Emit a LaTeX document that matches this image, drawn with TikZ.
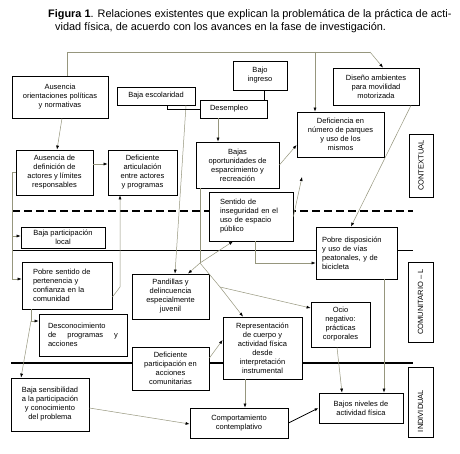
\documentclass[tikz,border=0pt]{standalone}
\usepackage{fontspec}
\setmainfont{Liberation Sans}
\usetikzlibrary{arrows.meta}
\definecolor{conncol}{RGB}{150,150,125}
\begin{document}
\begin{tikzpicture}[x=1pt,y=-1pt,
  every node/.style={font=\fontsize{7.5}{9}\selectfont},
  box/.style={draw=black, line width=0.8pt, fill=white, inner sep=0pt, align=center},
  conn/.style={draw=conncol, line width=0.5pt},
  arr/.style={-{Latex[length=4pt,width=3pt,color=black]}},
  solidln/.style={draw=black, line width=0.8pt},
  titlefont/.style={font=\fontsize{10.9}{13}\selectfont, inner sep=0pt, anchor=base west}]
\useasboundingbox[fill=white] (0,0) rectangle (460,454);
% title
\node[titlefont] (tt1) at (48,18) {\textbf{Figura 1}. Relaciones existentes que explican la problemática de la práctica de acti-};
\node[titlefont] (tt2) at (55,31) {vidad física, de acuerdo con los avances en la fase de investigación.};
% level separators
\draw[line width=2pt, dash pattern=on 8pt off 4pt] (12,211) -- (413,211);
\draw[line width=0.8pt] (12,250.5) -- (413,250.5);
\draw[line width=2.5pt] (11,363) -- (413,363);
% boxes
\node[box, minimum width=96pt, minimum height=42pt] (b1) at (60,97) {Ausencia\\orientaciones políticas\\y normativas};
\node[box, minimum width=78pt, minimum height=18pt] (esc) at (156,96) {Baja escolaridad};
\node[box, minimum width=54pt, minimum height=29pt] (ing) at (260,75.5) {Bajo\\ingreso};
\node[box, minimum width=67pt, minimum height=18pt, text width=47pt, align=left, inner xsep=10pt] (des) at (233.5,109) {Desempleo};
\node[box, minimum width=86pt, minimum height=37pt] (dis) at (376,86.5) {Diseño ambientes\\para movilidad\\motorizada};
\node[box, minimum width=87pt, minimum height=45pt] (par) at (340.5,134.5) {Deficiencia en\\número de parques\\y uso de los\\mismos};
\node[box, rotate=90, minimum width=63pt, minimum height=24pt] (ctx) at (421,165.5) {CONTEXTUAL};
\node[box, minimum width=77pt, minimum height=45pt] (def) at (54.5,172.5) {Ausencia de\\definición de\\actores y límites\\responsables};
\node[box, minimum width=69pt, minimum height=45pt] (art) at (142.5,172.5) {Deficiente\\articulación\\entre actores\\y programas};
\node[box, minimum width=83pt, minimum height=46pt] (opo) at (237.5,165) {Bajas\\oportunidades de\\esparcimiento y\\recreación};
\node[box, minimum width=84pt, minimum height=49pt, text width=62pt, align=left, inner xsep=11pt] (seg) at (251,216.5) {Sentido de\\inseguridad en el\\uso de espacio\\público};
\node[box, minimum width=84pt, minimum height=21pt] (loc) at (63,237.5) {Baja participación\\local};
\node[box, minimum width=81pt, minimum height=52pt, text width=69pt, align=left, inner xsep=6pt] (via) at (356.5,253) {Pobre disposición\\y uso de vías\\peatonales, y de\\bicicleta};
\node[box, rotate=90, minimum width=80pt, minimum height=25pt] (com) at (420.5,302) {COMUNITARIO – L};
\node[box, rotate=90, minimum width=70pt, minimum height=25pt, text width=60pt, align=left, inner xsep=5pt] (ind) at (420.5,402) {INDIVIDUAL};
\node[box, minimum width=90pt, minimum height=47pt, text width=68pt, align=left, inner xsep=11pt] (per) at (67,285.5) {Pobre sentido de\\pertenencia y\\confianza en la\\comunidad};
\node[box, minimum width=88pt, minimum height=42pt, text width=70pt, align=left, inner xsep=9pt] (dsc) at (83,335) {Desconocimiento\\de\hfill programas\hfill y\\acciones};
\node[box, minimum width=77pt, minimum height=45pt] (pan) at (170.5,296.5) {Pandillas y\\delincuencia\\especialmente\\juvenil};
\node[box, minimum width=59pt, minimum height=45pt] (oci) at (340.5,324.5) {Ocio\\negativo:\\prácticas\\corporales};
\node[box, minimum width=79pt, minimum height=62pt] (rep) at (262.5,348) {Representación\\de cuerpo y\\actividad física\\desde\\interpretación\\instrumental};
\node[box, minimum width=77pt, minimum height=43pt] (dpa) at (170.5,368.5) {Deficiente\\participación en\\acciones\\comunitarias};
\node[box, minimum width=78pt, minimum height=53pt] (sen) at (50,404.5) {Baja sensibilidad\\a la participación\\y conocimiento\\del problema};
\node[box, minimum width=98pt, minimum height=30pt] (cmp) at (239,423) {Comportamiento\\contemplativo};
\node[box, minimum width=84pt, minimum height=30pt] (niv) at (361,408) {Bajos niveles de\\actividad física};
% helper coordinates
\coordinate (t1) at (67,52);
\coordinate (t2) at (370,52);
\coordinate (t3) at (315,52);
\coordinate (l1) at (12,172.5);
\coordinate (l2) at (12,236);
\coordinate (l3) at (12,279);
\coordinate (a1) at (120,287);
\coordinate (J1) at (200,263);
\coordinate (J2) at (220,287);
\coordinate (u1) at (302,177);
\coordinate (p1) at (31,321);
% connectors
\draw[conn] (t1 |- b1.north) -- (t1) -- (t2);
\draw[conn,arr] (t2) -- ([xshift=7pt]dis.north);
\draw[conn,arr] (t3) -- (t3 |- par.north);
\draw[conn,arr] ([xshift=2pt]b1.south) -- ([xshift=2.5pt]def.north);
\draw[conn,arr] (def.east |- 0,164) -- (art.west |- 0,164);
\draw[conn] (def.west) -- (l1) -- (l3);
\draw[conn,arr] (l2) -- (l2 -| loc.west);
\draw[conn,arr] (l3) -- (l3 -| per.west);
\draw[conn,arr] (per.east |- 0,297) -- (a1) -- (a1 |- art.south);
\draw[conn,arr] ([xshift=30pt]esc.south) -- ([xshift=4.5pt]pan.north);
\draw[solidln] ([xshift=11pt]esc.south) |- (des.west);
\draw[solidln] ([xshift=4pt]ing.south) -- ([xshift=4pt]ing.south |- des.north);
\draw[conn,arr] ([xshift=-15.5pt]des.south) -- ([xshift=-15.5pt]des.south |- opo.north);
\draw[conn,arr] (opo.east) -- (par.west |- 0,145);
\draw[conn] ([xshift=-37.5pt]opo.south) -- (J1);
\draw[conn,arr] (J1) -- ([xshift=17.5pt]pan.north);
\draw[conn,arr] (J1) -- ([xshift=-18pt]seg.south);
\draw[conn,arr] (J1) -- (J2) -- ([xshift=-19.5pt]rep.north);
\draw[conn,arr] (J2) -- (oci.west |- 0,308);
\draw[conn,arr] ([xshift=4pt]seg.south) |- (via.west |- 0,263);
\draw[conn,arr] (seg.east) -- (u1);
\draw[conn,arr] ([xshift=35pt]dis.south) -- ([xshift=-5.5pt]via.north);
\draw[conn,arr] ([xshift=27.5pt]via.south) -- ([xshift=27.5pt]via.south |- niv.north);
\draw[conn,arr] ([xshift=-3.5pt]oci.south) -- ([xshift=-19pt]niv.north);
\draw[conn,arr] ([xshift=-17.5pt]rep.south) -- ([xshift=-17.5pt]rep.south |- cmp.north);
\draw[solidln,arr] (cmp.east) -- (niv.west);
\draw[conn,arr] (sen.east |- 0,408) -- (cmp.west |- 0,424);
\draw[conn,arr] (dpa.east |- 0,358) -- (rep.west |- 0,340);
\draw[conn,arr] (per.south -| p1) -- (p1) -- (p1 -| dsc.west);
\draw[conn,arr] (p1) -- ([xshift=-29pt]sen.north);
\end{tikzpicture}
\end{document}
